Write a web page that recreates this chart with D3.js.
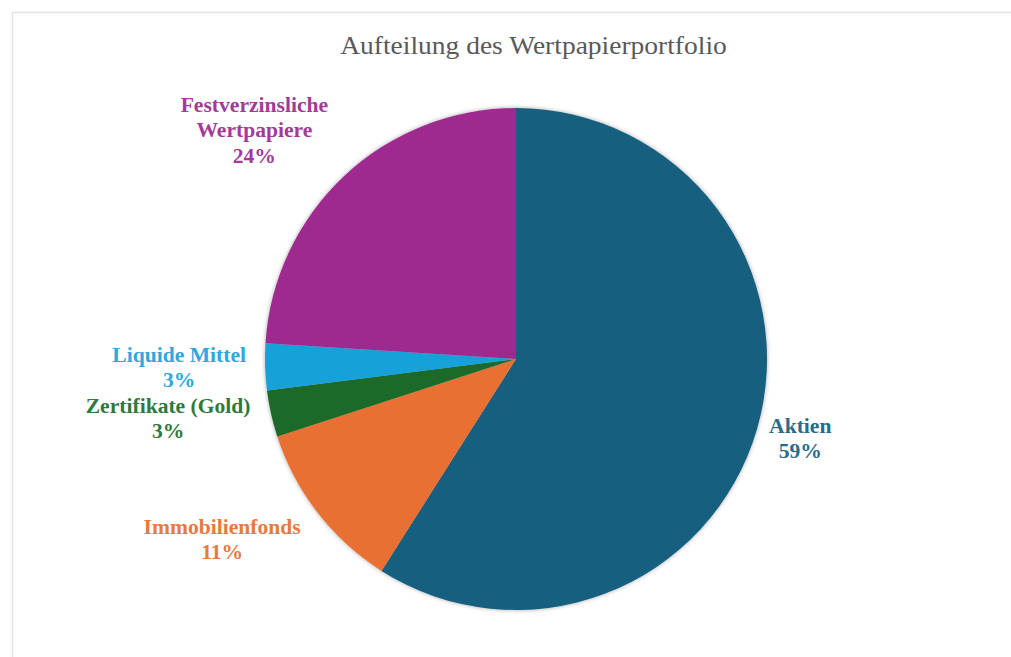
<!DOCTYPE html>
<html>
<head>
<meta charset="utf-8">
<script src="https://cdn.jsdelivr.net/npm/d3@7"></script>
<style>
  body { margin: 0; background: #fff; }
  svg { display: block; }
</style>
</head>
<body>
<div></div>
<script>
const title = 'Aufteilung des Wertpapierportfolio';
const categories = ['Aktien', 'Immobilienfonds', 'Zertifikate (Gold)', 'Liquide Mittel', 'Festverzinsliche Wertpapiere'];
const values = [59, 11, 3, 3, 24];
const labelLines = [['Aktien'], ['Immobilienfonds'], ['Zertifikate (Gold)'], ['Liquide Mittel'], ['Festverzinsliche', 'Wertpapiere']];
const sliceColors = ['#175e7e', '#e87032', '#1e6b2a', '#14a1d9', '#9e2a90'];
const labelColors = ['#2a6b8a', '#e8793f', '#2f7a3a', '#2ea8dd', '#a43a98'];

const w = 1011;
const h = 657;
const cx = 516;
const cy = 359;
const radius = 251;
const labelGap = 45;

// manual nudges so labels sit where Excel's "best fit" put them
const labelNudge = [[0, -2], [-60, 0], [-59, -4], [-41, 0], [-59, -12]];

const serif = '"Liberation Serif", "Times New Roman", serif';

const svg = d3
  .select('body')
  .select('div')
  .append('svg')
  .attr('width', w)
  .attr('height', h);

const defs = svg.append('defs');
defs
  .append('filter')
  .attr('id', 'shadow')
  .attr('x', '-10%')
  .attr('y', '-10%')
  .attr('width', '120%')
  .attr('height', '120%')
  .append('feDropShadow')
  .attr('dx', 0)
  .attr('dy', 0)
  .attr('stdDeviation', 2)
  .attr('flood-color', '#000')
  .attr('flood-opacity', 0.35);

// chart area border
svg
  .append('rect')
  .attr('x', 12.5)
  .attr('y', 12.5)
  .attr('width', w + 20)
  .attr('height', h + 20)
  .style('fill', 'none')
  .style('stroke', '#e3e3e3')
  .style('stroke-width', 1.5);

svg
  .append('text')
  .attr('transform', 'translate(533.5, 53.5) scale(1.1, 1)')
  .attr('text-anchor', 'middle')
  .style('font-family', serif)
  .style('font-size', '25px')
  .style('fill', '#595959')
  .text(title);

const pie = d3.pie().sort(null).value((d) => d);
const arcs = pie(values);
const arc = d3.arc().innerRadius(0).outerRadius(radius);
const labelArc = d3.arc().innerRadius(radius + labelGap).outerRadius(radius + labelGap);

const g = svg.append('g').attr('transform', `translate(${cx}, ${cy})`);

g.append('g')
  .attr('filter', 'url(#shadow)')
  .selectAll('path')
  .data(arcs)
  .enter()
  .append('path')
  .attr('d', arc)
  .style('fill', (d, i) => sliceColors[i]);

const total = d3.sum(values);

const labels = g
  .selectAll('.label')
  .data(arcs)
  .enter()
  .append('text')
  .attr('class', 'label')
  .attr('text-anchor', 'middle')
  .style('font-family', serif)
  .style('font-weight', 'bold')
  .style('font-size', '20px')
  .style('fill', (d, i) => labelColors[i])
  .attr('transform', (d, i) => {
    const [x, y] = labelArc.centroid(d);
    return `translate(${x + labelNudge[i][0]}, ${y + labelNudge[i][1]}) scale(1.08, 1)`;
  });

labels.each(function (d, i) {
  const lines = labelLines[i].concat([Math.round((d.value / total) * 100) + '%']);
  const t = d3.select(this);
  const lh = 25.5;
  const y0 = -((lines.length - 1) * lh) / 2 + 6;
  lines.forEach((line, k) => {
    t.append('tspan').attr('x', 0).attr('y', y0 + k * lh).text(line);
  });
});
</script>
</body>
</html>
